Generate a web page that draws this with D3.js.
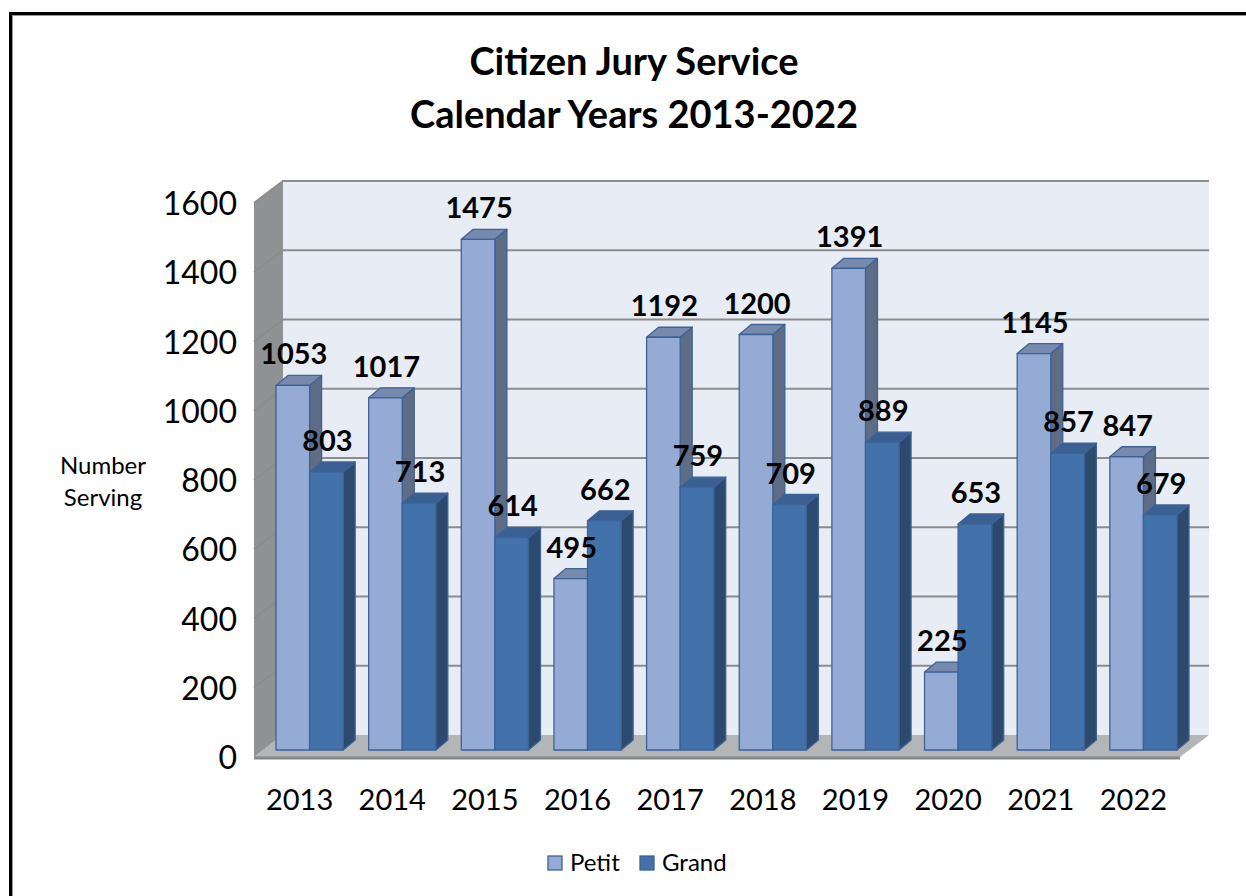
<!DOCTYPE html>
<html>
<head>
<meta charset="utf-8">
<script src="https://cdn.jsdelivr.net/npm/d3@7"></script>
<style>
  body { margin: 0; background: #fff; }
  svg { display: block; }
  text { font-family: Lato, "Open Sans", sans-serif; }
</style>
</head>
<body>
<svg id="chart" width="1246" height="896"></svg>
<script>
// values
const years = ["2013", "2014", "2015", "2016", "2017", "2018", "2019", "2020", "2021", "2022"];
const series = ["Petit", "Grand"];
const petit = [1053, 1017, 1475, 495, 1192, 1200, 1391, 225, 1145, 847];
const grand = [803, 713, 614, 662, 759, 709, 889, 653, 857, 679];
const yTicks = [0, 200, 400, 600, 800, 1000, 1200, 1400, 1600];

const width = 1246, height = 896;

// oblique 3D look: back wall, bar plane, front plane
const depth = { dx: 29, dy: -22 };   // front -> back
const barDepth = { dx: 12, dy: -10 }; // thickness of each bar

const yBack = d3.scaleLinear().domain([0, 1600]).range([735, 181]);
const yBar = d3.scaleLinear().domain([0, 1600]).range([750, 196]);
const yFront = d3.scaleLinear().domain([0, 1600]).range([757, 203]);

const x = d3.scaleBand().domain(years).range([276, 1177]).paddingInner(0.275).paddingOuter(0);
const xs = d3.scaleBand().domain(series).range([0, x.bandwidth()]);

const colors = {
  Petit: { front: "#95abd5", side: "#5f6c86", top: "#7889ae" },
  Grand: { front: "#4371a9", side: "#2d4a6e", top: "#395f93" }
};

const data = years.map((y, i) => ({ year: y, Petit: petit[i], Grand: grand[i] }));

const svg = d3.select("#chart");

// frame
svg.append("rect").attr("x", 10.5).attr("y", 13.5).attr("width", 1300).attr("height", 1000)
  .attr("fill", "#fff").attr("stroke", "#000").attr("stroke-width", 3);
svg.append("rect").attr("x", 12.5).attr("y", 15.5).attr("width", 1300).attr("height", 1000)
  .attr("fill", "none").attr("stroke", "#9a9a9a").attr("stroke-width", 1);

// title
const title = svg.append("text").attr("text-anchor", "middle").attr("font-weight", "bold")
  .attr("font-size", 38).attr("fill", "#000");
title.append("tspan").attr("x", 634).attr("y", 75).text("Citizen Jury Service");
title.append("tspan").attr("x", 634).attr("y", 128).text("Calendar Years 2013-2022");

const xL = 254, xR = 1180; // front edge of the floor
const line = d3.line();

// back wall
svg.append("path")
  .attr("d", line([[xL + depth.dx, yBack(1600)], [xR + depth.dx, yBack(1600)], [xR + depth.dx, yBack(0)], [xL + depth.dx, yBack(0)]]) + "Z")
  .attr("fill", "#e8ecf5");
// left wall
svg.append("path")
  .attr("d", line([[xL, yFront(1600)], [xL + depth.dx, yBack(1600)], [xL + depth.dx, yBack(0)], [xL, yFront(0)]]) + "Z")
  .attr("fill", "#8f9295");
// floor
svg.append("path")
  .attr("d", line([[xL, yFront(0)], [xL + depth.dx, yBack(0)], [xR + depth.dx, yBack(0)], [xR, yFront(0)]]) + "Z")
  .attr("fill", "#b3b5b7");
svg.append("line").attr("x1", xL).attr("x2", xR).attr("y1", yFront(0) + 1).attr("y2", yFront(0) + 1)
  .attr("stroke", "#85878a").attr("stroke-width", 3);

// gridlines on back and left wall
const grid = svg.append("g").attr("stroke", "#8c8c8c").attr("stroke-width", 2).attr("fill", "none");
grid.selectAll("path").data(yTicks.filter(d => d > 0)).join("path")
  .attr("d", d => line([[xL, yFront(d)], [xL + depth.dx, yBack(d)], [xR + depth.dx, yBack(d)]]));

// y tick labels
svg.append("g").selectAll("text").data(yTicks).join("text")
  .attr("x", 237).attr("y", d => yFront(d) + 12)
  .attr("text-anchor", "end").attr("font-size", 32).attr("fill", "#000")
  .text(d => d);

// y axis title
const yt = svg.append("text").attr("text-anchor", "middle").attr("font-size", 24).attr("fill", "#000");
yt.append("tspan").attr("x", 103).attr("y", 474).text("Number");
yt.append("tspan").attr("x", 103).attr("y", 506).text("Serving");

// bars
const bars = svg.append("g").attr("stroke", "#3d6395").attr("stroke-width", 1.3).attr("stroke-linejoin", "round");
data.forEach(d => {
  series.forEach(s => {
    const x0 = x(d.year) + xs(s), x1 = x0 + xs.bandwidth();
    const yt0 = yBar(d[s]), yb0 = yBar(0);
    const c = colors[s];
    const g = bars.append("g");
    g.append("path").attr("fill", c.side)
      .attr("d", line([[x1, yt0], [x1 + barDepth.dx, yt0 + barDepth.dy], [x1 + barDepth.dx, yb0 + barDepth.dy], [x1, yb0]]) + "Z");
    g.append("path").attr("fill", c.top)
      .attr("d", line([[x0, yt0], [x0 + barDepth.dx, yt0 + barDepth.dy], [x1 + barDepth.dx, yt0 + barDepth.dy], [x1, yt0]]) + "Z");
    g.append("rect").attr("fill", c.front)
      .attr("x", x0).attr("y", yt0).attr("width", x1 - x0).attr("height", yb0 - yt0);
  });
});

// value labels
const labels = svg.append("g").attr("font-size", 29).attr("font-weight", "bold").attr("text-anchor", "middle").attr("fill", "#000");
data.forEach(d => {
  series.forEach(s => {
    labels.append("text")
      .attr("x", x(d.year) + xs(s) + xs.bandwidth() / 2 + 1)
      .attr("y", yBar(d[s]) - 21)
      .text(d[s]);
  });
});

// category labels
svg.append("g").selectAll("text").data(years).join("text")
  .attr("x", d => x(d) + x.bandwidth() / 2 - 10).attr("y", 810)
  .attr("text-anchor", "middle").attr("font-size", 29).attr("fill", "#000")
  .text(d => d);

// legend
const legend = svg.append("g");
const legendItems = [{ s: "Petit", x: 548 }, { s: "Grand", x: 640 }];
legendItems.forEach(it => {
  legend.append("rect").attr("x", it.x).attr("y", 856).attr("width", 14).attr("height", 14)
    .attr("fill", colors[it.s].front).attr("stroke", "#3d6395").attr("stroke-width", 1.3);
  legend.append("text").attr("x", it.x + 22).attr("y", 871).attr("font-size", 24).attr("fill", "#000").text(it.s);
});
</script>
</body>
</html>
